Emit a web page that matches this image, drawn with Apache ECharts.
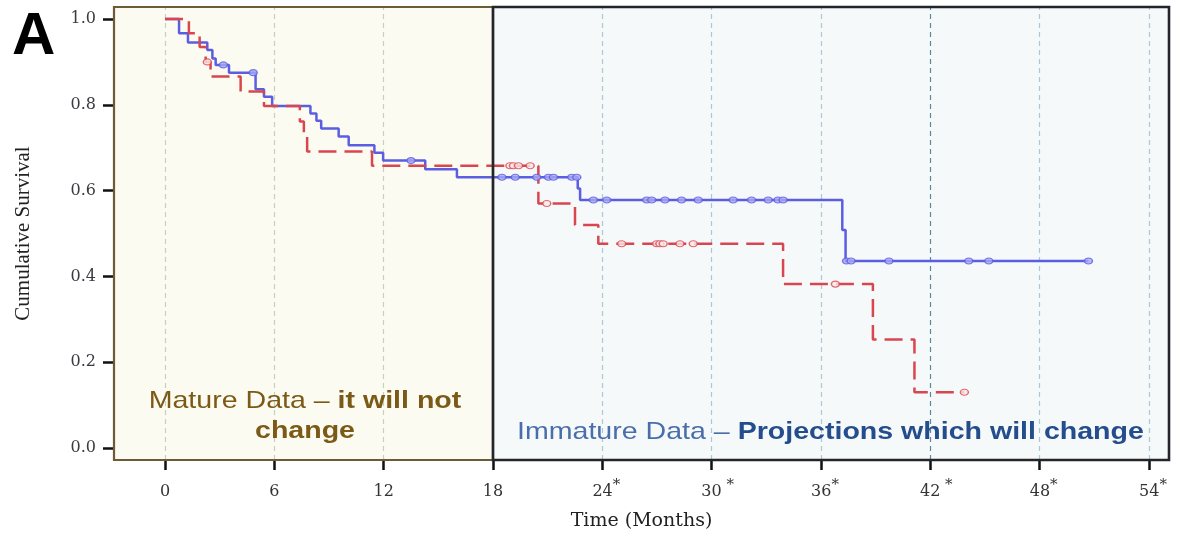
<!DOCTYPE html>
<html>
<head>
<meta charset="utf-8">
<script src="https://cdn.jsdelivr.net/npm/echarts@6/dist/echarts.min.js"></script>
<style>
html,body{margin:0;padding:0;background:#fff;}
#chart{width:1180px;height:542px;}
</style>
</head>
<body>
<div id="chart"></div>
<script>
// ---- data ----
const xTicks = [0, 6, 12, 18, 24, 30, 36, 42, 48, 54];
const xTickLabels = ['0', '6', '12', '18', '24*', '30 *', '36*', '42 *', '48*', '54*'];
const yTicks = [0, 0.2, 0.4, 0.6, 0.8, 1.0];
const xRange = [-2.8, 55.1];
const yRange = [-0.028, 1.028];
const matureEnd = 18;

// Blue (solid) Kaplan-Meier curve: [month, survival]
const blueCurve = [
  [0, 1.0], [0.77, 0.967], [1.26, 0.945], [2.32, 0.928], [2.60, 0.908], [2.78, 0.893],
  [3.51, 0.875], [4.97, 0.836], [5.43, 0.819], [5.88, 0.797], [7.98, 0.780], [8.31, 0.763],
  [8.57, 0.745], [9.53, 0.726], [10.08, 0.706], [11.49, 0.688], [11.97, 0.670], [14.28, 0.650],
  [16.02, 0.631], [22.65, 0.605], [22.78, 0.578], [37.17, 0.508], [37.35, 0.436], [50.68, 0.436]
];
const blueCensored = [
  [3.2, 0.893], [4.84, 0.875], [13.5, 0.670],
  [18.49, 0.631], [19.22, 0.631], [20.4, 0.631], [21.04, 0.631], [21.32, 0.631], [22.32, 0.631], [22.6, 0.631],
  [23.51, 0.578], [24.24, 0.578], [26.43, 0.578], [26.71, 0.578], [27.44, 0.578], [28.35, 0.578],
  [29.26, 0.578], [31.18, 0.578], [32.19, 0.578], [33.10, 0.578], [33.64, 0.578], [33.92, 0.578],
  [37.4, 0.436], [37.65, 0.436], [39.73, 0.436], [44.11, 0.436], [45.21, 0.436], [50.68, 0.436]
];

// Red (dashed) Kaplan-Meier curve
const redCurve = [
  [0, 1.0], [1.31, 0.967], [1.90, 0.935], [2.23, 0.900], [2.50, 0.866], [4.15, 0.831],
  [5.43, 0.797], [7.40, 0.761], [7.62, 0.726], [7.80, 0.691], [11.36, 0.658], [20.49, 0.570],
  [22.5, 0.520], [23.78, 0.476], [33.92, 0.382], [38.85, 0.253], [41.13, 0.130], [43.87, 0.130]
];
const redCensored = [
  [2.32, 0.900], [18.93, 0.658], [19.12, 0.658], [19.40, 0.658], [20.04, 0.658], [20.95, 0.570],
  [25.06, 0.476], [26.98, 0.476], [27.16, 0.476], [27.34, 0.476], [28.26, 0.476], [28.99, 0.476],
  [36.79, 0.382], [43.87, 0.130]
];

// ---- chart ----
const chart = echarts.init(document.getElementById('chart'), null, {renderer: 'canvas'});
const serif = 'DejaVu Serif';

function gridColor(v) {
  if (v < matureEnd) return '#c6cfc3';
  if (v === 42) return '#5b88a1';
  return '#aac8d8';
}

const option = {
  animation: false,
  backgroundColor: '#ffffff',
  grid: {left: 114, right: 11, top: 7, bottom: 82, containLabel: false},
  xAxis: {
    type: 'value', min: xRange[0], max: xRange[1],
    name: 'Time (Months)', nameLocation: 'middle', nameGap: 52,
    nameTextStyle: {fontFamily: serif, fontSize: 19, color: '#222'},
    axisLine: {show: false, onZero: false},
    splitLine: {show: false},
    axisTick: {show: true, customValues: xTicks, length: 10, lineStyle: {color: '#111', width: 2.5}},
    axisLabel: {
      customValues: xTicks, margin: 18,
      fontFamily: serif, fontSize: 16, color: '#333',
      formatter: function (v) {
        const i = xTicks.indexOf(v);
        const s = i >= 0 ? xTickLabels[i] : String(v);
        const m = s.match(/^(\d+)(\s*\*)$/);
        if (m) {
          const key = m[2].length > 1 ? 'nw' : 'na';
          return '{' + key + '|' + m[1] + '}{sup|' + m[2] + '}';
        }
        return '{n|' + s + '}';
      },
      rich: {
        n: {fontFamily: serif, fontSize: 16, color: '#333', lineHeight: 22, verticalAlign: 'bottom'},
        na: {fontFamily: serif, fontSize: 16, color: '#333', lineHeight: 22, verticalAlign: 'bottom', padding: [0, 0, 0, 8]},
        nw: {fontFamily: serif, fontSize: 16, color: '#333', lineHeight: 22, verticalAlign: 'bottom', padding: [0, 0, 0, 12]},
        sup: {fontFamily: serif, fontSize: 15, color: '#333', lineHeight: 22, verticalAlign: 'top'}
      }
    }
  },
  yAxis: {
    type: 'value', min: yRange[0], max: yRange[1],
    name: 'Cumulative Survival', nameLocation: 'middle', nameGap: 80,
    nameTextStyle: {fontFamily: 'Liberation Serif', fontSize: 21, color: '#222'},
    axisLine: {show: false, onZero: false},
    splitLine: {show: false},
    axisTick: {show: true, customValues: yTicks, length: 11, lineStyle: {color: '#111', width: 2.5}},
    axisLabel: {
      customValues: yTicks, margin: 18,
      fontFamily: serif, fontSize: 16, color: '#3a3a40',
      formatter: function (v) { return v.toFixed(1); }
    }
  },
  graphic: [
    {type: 'text', x: 12, y: 37, silent: true,
      style: {text: 'A', font: 'bold 60px "Liberation Sans"', fill: '#000', textAlign: 'left', textVerticalAlign: 'middle'}},
    {type: 'text', x: 305, y: 401, scaleX: 1.19, silent: true, z: 20,
      style: {text: '{r|Mature Data – }{b|it will not}', textAlign: 'center', textVerticalAlign: 'middle',
        rich: {r: {font: '24px "Liberation Sans"', fill: '#7a5a16'}, b: {font: 'bold 24px "Liberation Sans"', fill: '#7a5a16'}}}},
    {type: 'text', x: 305, y: 431, scaleX: 1.19, silent: true, z: 20,
      style: {text: 'change', font: 'bold 24px "Liberation Sans"', fill: '#7a5a16', textAlign: 'center', textVerticalAlign: 'middle'}},
    {type: 'text', x: 517, y: 432, scaleX: 1.19, silent: true, z: 20,
      style: {text: '{r|Immature Data – }{b|Projections which will change}', textAlign: 'left', textVerticalAlign: 'middle',
        rich: {r: {font: '24px "Liberation Sans"', fill: '#4a6ea9'}, b: {font: 'bold 24px "Liberation Sans"', fill: '#234d8c'}}}}
  ],
  series: [
    {
      name: 'bg', type: 'line', data: [], z: 0, silent: true, clip: false,
      markArea: {
        silent: true, z: 0,
        data: [
          [{xAxis: xRange[0], yAxis: yRange[0], itemStyle: {color: '#fcfbf1'}}, {xAxis: matureEnd, yAxis: yRange[1]}],
          [{xAxis: matureEnd, yAxis: yRange[0], itemStyle: {color: '#f6f9fa'}}, {xAxis: xRange[1], yAxis: yRange[1]}]
        ]
      },
      markLine: {
        silent: true, z: 1, symbol: ['none', 'none'], label: {show: false},
        data: xTicks.filter(v => v !== matureEnd).map(v => ({xAxis: v, lineStyle: {color: gridColor(v), type: [5, 4], width: 1.2}}))
      }
    },
    {
      name: 'Group 1', type: 'line', step: 'end', data: blueCurve, showSymbol: false, symbol: 'none', z: 3,
      lineStyle: {color: '#5b5ee0', width: 2.5}
    },
    {
      name: 'Group 2', type: 'line', step: 'end', data: redCurve, showSymbol: false, symbol: 'none', z: 3,
      lineStyle: {color: '#d8474f', width: 2.5, type: [18, 8]}
    },
    {
      name: 'Group 1 censored', type: 'scatter', data: blueCensored, symbol: 'circle', symbolSize: [8, 6], z: 4,
      itemStyle: {color: '#a7a9f2', borderColor: '#5b5ee0', borderWidth: 1.3}
    },
    {
      name: 'Group 2 censored', type: 'scatter', data: redCensored, symbol: 'circle', symbolSize: [8, 6], z: 4,
      itemStyle: {color: '#fbe8e8', borderColor: '#d8474f', borderWidth: 1.3}
    },
    {
      name: 'frame', type: 'line', data: [], z: 10, silent: true, clip: false,
      markArea: {
        silent: true, z: 10,
        data: [
          [{xAxis: xRange[0], yAxis: yRange[0], itemStyle: {color: 'rgba(0,0,0,0)', borderColor: '#6e5a34', borderWidth: 2.2}}, {xAxis: matureEnd, yAxis: yRange[1]}],
          [{xAxis: matureEnd, yAxis: yRange[0], itemStyle: {color: 'rgba(0,0,0,0)', borderColor: '#22262b', borderWidth: 2.6}}, {xAxis: xRange[1], yAxis: yRange[1]}]
        ]
      }
    }
  ]
};
chart.setOption(option);
</script>
</body>
</html>
